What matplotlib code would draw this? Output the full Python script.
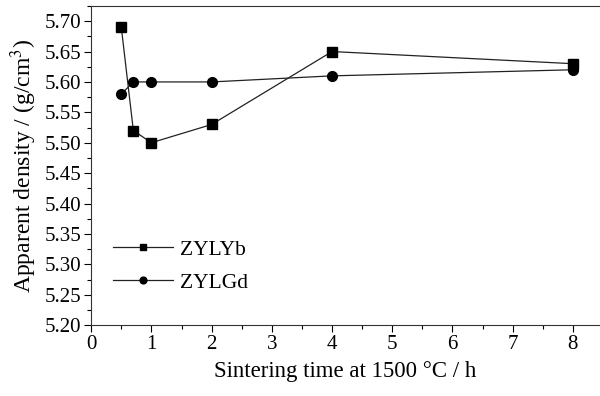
import matplotlib
matplotlib.use("Agg")
import matplotlib.pyplot as plt
from matplotlib.ticker import MultipleLocator, AutoMinorLocator

# sintering time (h) and apparent density (g/cm3)
time_h = [0.5, 0.7, 1, 2, 4, 8]
zylyb = [5.69, 5.52, 5.50, 5.53, 5.65, 5.63]
zylgd = [5.58, 5.60, 5.60, 5.60, 5.61, 5.62]

plt.rcParams['font.family'] = ['Liberation Serif', 'DejaVu Serif']
plt.rcParams['mathtext.fontset'] = 'stix'

fig = plt.figure(figsize=(6, 3.96), dpi=100)
ax = fig.add_axes([0.152, 0.179, 0.846, 0.806])

ax.plot(time_h, zylyb, color='#222222', lw=0.9, marker='s', ms=6.5,
        mfc='black', mec='black', label='ZYLYb')
ax.plot(time_h, zylgd, color='#222222', lw=0.9, marker='o', ms=7,
        mfc='black', mec='black', label='ZYLGd')

ax.set_xlim(0, 8.43)
ax.set_ylim(5.20, 5.725)
ax.xaxis.set_major_locator(MultipleLocator(1))
ax.yaxis.set_major_locator(MultipleLocator(0.05))
ax.xaxis.set_minor_locator(AutoMinorLocator(2))
ax.yaxis.set_minor_locator(AutoMinorLocator(2))
ax.yaxis.set_major_formatter(plt.FormatStrFormatter('%.2f'))
ax.tick_params(which='major', direction='out', length=5, labelsize=15, width=0.8, pad=2)
ax.tick_params(which='minor', direction='out', length=3, width=0.8)
for s in ax.spines.values():
    s.set_linewidth(0.8)
    s.set_color('#333333')
ax.spines['right'].set_visible(False)

ax.set_xlabel('Sintering time at 1500 °C / h', fontsize=16.5, labelpad=5)
ax.set_ylabel('Apparent density / (g/cm$^3$)', fontsize=17, labelpad=4)

ax.legend(loc='lower left', bbox_to_anchor=(0.005, 0.04), frameon=False,
          fontsize=15.5, handlelength=2.8, handletextpad=0.3,
          markerscale=0.7, labelspacing=0.6)

fig.savefig('out.png', dpi=100)
